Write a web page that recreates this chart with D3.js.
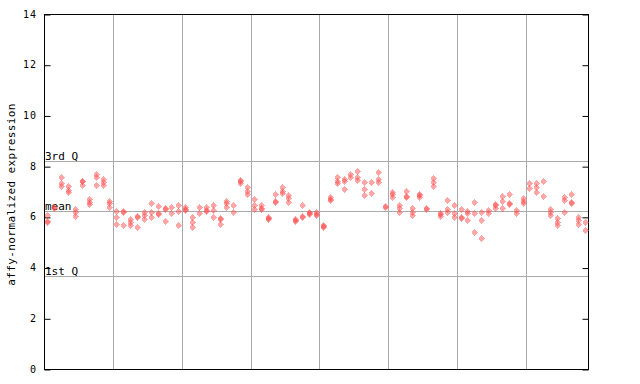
<!DOCTYPE html>
<html>
<head>
<meta charset="utf-8">
<script src="https://cdn.jsdelivr.net/npm/d3@7"></script>
<style>
  body { margin: 0; background: #fff; }
  svg { display: block; }
  text { font-family: "DejaVu Sans Mono", monospace; fill: #000; }
</style>
</head>
<body>
<svg id="chart" width="640" height="384"></svg>
<script>
// samples per group (vertical grid lines separate groups)
var groupSizes = [10, 10, 10, 10, 10, 10, 10, 9];

// expression values, one list per sample column
var sampleValues = [
  [6.07, 5.85, 5.78], [6.38, 6.33], [7.58, 7.32, 7.22], [7.22, 7.06, 6.97], [6.30, 6.18, 6.05],
  [7.43, 7.40, 7.26], [6.69, 6.60, 6.49], [7.68, 7.58, 7.25], [7.48, 7.39, 7.26], [6.64, 6.53, 6.40],
  [6.23, 5.98, 5.72], [6.25, 6.21, 5.68], [5.91, 5.81, 5.68], [6.05, 6.01, 5.59], [6.18, 6.07, 5.93],
  [6.56, 6.20, 5.98], [6.43, 6.14, 6.10], [6.34, 6.30, 5.85], [6.38, 6.17], [6.47, 6.25, 5.68],
  [6.40, 6.30, 6.27], [5.98, 5.80, 5.61], [6.38, 6.14], [6.38, 6.27, 6.23], [6.47, 6.27, 5.98],
  [5.97, 5.93, 5.71], [6.64, 6.53, 6.40], [6.47, 6.20], [7.45, 7.41, 7.32], [7.16, 7.03, 6.89],
  [6.69, 6.47, 6.30], [6.47, 6.36, 6.32], [6.00, 5.96, 5.93], [6.89, 6.64, 6.60], [7.19, 7.02, 6.93],
  [6.86, 6.73, 6.60], [5.90, 5.86, 5.82], [6.47, 6.05, 6.01], [6.20, 6.16, 6.10], [6.18, 6.12, 6.07],
  [5.68, 5.64, 5.60], [6.79, 6.72, 6.68], [7.56, 7.43, 7.32], [7.48, 7.41, 7.09], [7.69, 7.58],
  [7.81, 7.56, 7.45], [7.36, 7.09, 6.86], [7.36, 6.93], [7.76, 7.48, 7.39], [6.43, 6.39],
  [6.99, 6.89, 6.77], [6.47, 6.34, 6.20], [7.03, 6.82, 6.78], [6.34, 6.20, 6.07], [6.89, 6.85, 6.77],
  [6.34, 6.30], [7.52, 7.39, 7.23], [6.14, 6.10, 6.05], [6.66, 6.30, 6.20], [6.47, 6.14, 5.98],
  [6.30, 5.98, 5.94], [6.25, 6.14, 5.88], [6.60, 6.14, 5.41], [6.20, 5.88, 5.15], [6.27, 6.14],
  [6.49, 6.45, 6.34], [6.82, 6.64, 6.34], [6.89, 6.53, 6.49], [6.27, 6.14], [6.73, 6.64, 6.53],
  [7.32, 7.12], [7.32, 7.19, 6.97], [7.41, 6.82], [6.30, 6.18, 6.07], [5.94, 5.81, 5.68],
  [6.79, 6.66, 6.20], [6.89, 6.57, 6.53], [5.98, 5.88, 5.72], [5.78, 5.48]
];

var yTicks = [0, 2, 4, 6, 8, 10, 12, 14];
var refLines = [
  { label: '3rd Q', value: 8.22 },
  { label: 'mean', value: 6.23 },
  { label: '1st Q', value: 3.65 }
];
var yTitle = 'affy-normalized expression';

/**************************************************************************************/

var svg = d3.select('#chart');
var plotL = 44, plotR = 588, plotT = 14, plotB = 369;
var pointColor = '#ff4d4d';

var nSamples = d3.sum(groupSizes);
var x = d3.scaleLinear().domain([0, nSamples]).range([plotL, plotR]);
var y = d3.scaleLinear().domain([0, 14]).range([plotB, plotT]);

// two complementary checker patterns: dithered diamonds, overlaps fill in solid
var defs = svg.append('defs');
['pa', 'pb'].forEach(function(id, k){
    var p = defs.append('pattern')
        .attr('id', id).attr('patternUnits', 'userSpaceOnUse')
        .attr('width', 2).attr('height', 2);
    p.append('rect').attr('x', k).attr('y', 0).attr('width', 1).attr('height', 1).attr('fill', pointColor);
    p.append('rect').attr('x', 1 - k).attr('y', 1).attr('width', 1).attr('height', 1).attr('fill', pointColor);
});

// group separators
var bounds = d3.cumsum(groupSizes).slice(0, -1);
svg.append('g').selectAll('line').data(bounds).enter().append('line')
    .attr('x1', function(d){ return Math.round(x(d)) + 0.5; })
    .attr('x2', function(d){ return Math.round(x(d)) + 0.5; })
    .attr('y1', plotT).attr('y2', plotB)
    .attr('stroke', '#aaaaaa').attr('stroke-width', 1);

// quartile / mean lines
var ref = svg.append('g');
ref.selectAll('line').data(refLines).enter().append('line')
    .attr('x1', plotL).attr('x2', plotR)
    .attr('y1', function(d){ return Math.round(y(d.value)) + 0.5; })
    .attr('y2', function(d){ return Math.round(y(d.value)) + 0.5; })
    .attr('stroke', '#aaaaaa').attr('stroke-width', 1);
ref.selectAll('text').data(refLines).enter().append('text')
    .attr('x', plotL + 1)
    .attr('y', function(d){ return Math.round(y(d.value)) - 1; })
    .attr('font-size', 11)
    .text(function(d){ return d.label; });

// frame and axes
svg.append('rect')
    .attr('x', plotL + 0.5).attr('y', plotT + 0.5)
    .attr('width', plotR - plotL).attr('height', plotB - plotT)
    .attr('fill', 'none').attr('stroke', '#000').attr('stroke-width', 1);

var yAxisL = d3.axisRight(y).tickValues(yTicks).tickSize(6).tickFormat('');
var yAxisR = d3.axisLeft(y).tickValues(yTicks).tickSize(6).tickFormat('');
svg.append('g').attr('transform', 'translate(' + (plotL + 0.5) + ',0.5)').call(yAxisL)
    .call(function(g){ g.select('.domain').remove(); });
svg.append('g').attr('transform', 'translate(' + (plotR + 0.5) + ',0.5)').call(yAxisR)
    .call(function(g){ g.select('.domain').remove(); });

svg.append('g').selectAll('text').data(yTicks).enter().append('text')
    .attr('x', 37).attr('y', function(d){ return y(d); })
    .attr('dy', '0.35em')
    .attr('text-anchor', 'end')
    .attr('font-size', 10)
    .attr('letter-spacing', 1)
    .text(function(d){ return d; });

svg.append('text')
    .attr('transform', 'translate(15,' + ((plotT + plotB) / 2 + 3) + ') rotate(-90)')
    .attr('text-anchor', 'middle')
    .attr('font-size', 11)
    .attr('letter-spacing', 0.4)
    .text(yTitle);

// points
var points = [];
sampleValues.forEach(function(vals, i){
    vals.forEach(function(v){ points.push({ i: i, v: v }); });
});

svg.append('g').attr('shape-rendering', 'crispEdges')
    .selectAll('path').data(points).enter().append('path')
    .attr('d', 'M0,-4L3,0L0,4L-3,0Z')
    .attr('transform', function(d){
        var px = Math.round(x(d.i + 0.5)), py = Math.round(y(d.v));
        return 'translate(' + (px + 0.5) + ',' + (py + 0.5) + ')';
    })
    .attr('fill', function(d){
        var px = Math.round(x(d.i + 0.5)), py = Math.round(y(d.v));
        return 'url(#' + ((px + py) % 2 ? 'pa' : 'pb') + ')';
    });
</script>
</body>
</html>
